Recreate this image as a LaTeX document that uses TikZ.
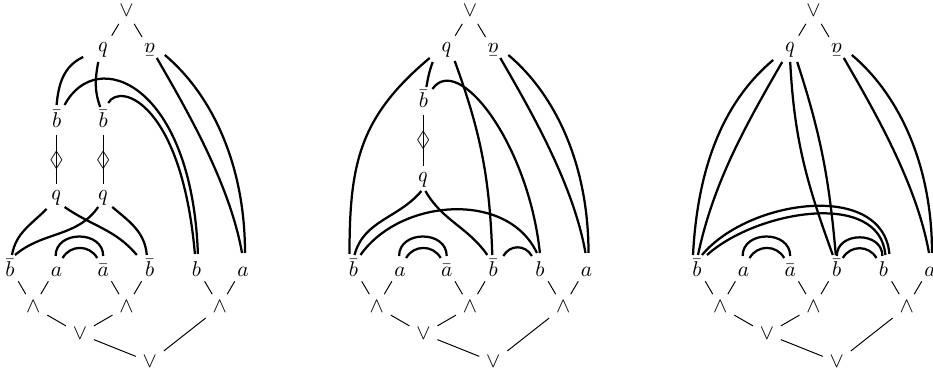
\documentclass[tikz,border=0pt]{standalone}
\usepackage{amsmath,amssymb}
\usepackage{tikz}

\begin{document}
\begin{tikzpicture}[
    x=0.018cm, y=0.018cm,
    every node/.style={font=\fontsize{11}{13}\selectfont},
    lab/.style={anchor=base, inner sep=2pt, text height=10pt, text depth=0pt},
    ubar/.style={anchor=base},
    inv/.style={rotate=180},
    tree/.style={line width=0.5pt},
    link/.style={line width=1.15pt},
]
\useasboundingbox (0,0) rectangle (933,374);

% Left net
\begin{scope}[shift={(10,0)}, name prefix=L-]
\node (vt) at (116.5,363) {$\vee$};
\node[inv] (q0) at (93.2,324) {$b$};
\node[inv] (n0) at (139.8,324) {$\bar a$};
\node[ubar] (u1) at (46.6,246) {$\bar b$};
\node[ubar] (u2) at (93.2,246) {$\bar b$};
\node (d1) at (46.6,214) {$\lozenge$};
\node (d2) at (93.2,214) {$\lozenge$};
\node[inv] (p1) at (46.6,176) {$b$};
\node[inv] (p2) at (93.2,176) {$b$};
\node[lab] (b1) at (0,97) {$\bar b$};
\node[lab] (a1) at (46.6,97) {$a$};
\node[lab] (a2) at (93.2,97) {$\bar a$};
\node[lab] (b2) at (139.8,97) {$\bar b$};
\node[lab] (b3) at (186.4,97) {$b$};
\node[lab] (a3) at (233,97) {$a$};
\node (w1) at (23.3,67) {$\wedge$};
\node (w2) at (116.5,67) {$\wedge$};
\node (w3) at (209.7,67) {$\wedge$};
\node (v1) at (69.9,40) {$\vee$};
\node (v0) at (139.8,12) {$\vee$};
\draw[tree] (vt) edge (q0) edge (n0);
\draw[tree] (u1) -- (p1);
\draw[tree] (u2) -- (p2);
\draw[tree] (w1) edge (b1) edge (a1);
\draw[tree] (w2) edge (a2) edge (b2);
\draw[tree] (w3) edge (b3) edge (a3);
\draw[tree] (v1) edge (w1) edge (w2);
\draw[tree] (v0) edge (v1) edge (w3);
% links
\draw[link] ([shift={(-20,-7)}]q0.center) to[out=205,in=85] ([shift={(0,23)}]u1.base);
\draw[link] ([shift={(-5,-12)}]q0.center) to[out=260,in=110] ([shift={(-3,21)}]u2.base);
\draw[link] ([shift={(8,23)}]u1.base) .. controls +(62:68) and +(92:170) .. ([shift={(1.5,23)}]b3.base);
\draw[link] ([shift={(5,25)}]u2.base) .. controls +(60:25) and +(95:150) .. ([shift={(-1.5,23)}]b3.base);
\draw[link] ([shift={(7,-8)}]n0.center) .. controls +(300:60) and +(100:70) .. ([shift={(-1,24)}]a3.base);
\draw[link] ([shift={(15,-5)}]n0.center) .. controls +(320:60) and +(90:90) .. ([shift={(2,24)}]a3.base);
\draw[link] ([shift={(-10,-11)}]p1.center) to[out=225,in=80] ([shift={(2,22)}]b1.base);
\draw[link] ([shift={(8,-9)}]p1.center) to[out=-35,in=130] ([shift={(-13,22)}]b2.base);
\draw[link] ([shift={(-5,-9)}]p2.center) to[out=235,in=40] ([shift={(5,22)}]b1.base);
\draw[link] ([shift={(9,-9)}]p2.center) to[out=-40,in=95] ([shift={(-3,22)}]b2.base);
\draw[link] ([shift={(-1,21)}]a1.base) to[out=90,in=90,looseness=1.4] ([shift={(0,21)}]a2.base);
\draw[link] ([shift={(6,19)}]a1.base) to[out=60,in=120,looseness=1.15] ([shift={(-6,19)}]a2.base);
\end{scope}

% Middle net
\begin{scope}[shift={(353.5,0)}, name prefix=M-]
\node (vt) at (116.5,363) {$\vee$};
\node[inv] (q0) at (93.2,324) {$b$};
\node[inv] (n0) at (139.8,324) {$\bar a$};
\node[ubar] (u1) at (69.9,266) {$\bar b$};
\node (d1) at (69.9,234) {$\lozenge$};
\node[inv] (p1) at (69.9,194) {$b$};
\node[lab] (b1) at (0,97) {$\bar b$};
\node[lab] (a1) at (46.6,97) {$a$};
\node[lab] (a2) at (93.2,97) {$\bar a$};
\node[lab] (b2) at (139.8,97) {$\bar b$};
\node[lab] (b3) at (186.4,97) {$b$};
\node[lab] (a3) at (233,97) {$a$};
\node (w1) at (23.3,67) {$\wedge$};
\node (w2) at (116.5,67) {$\wedge$};
\node (w3) at (209.7,67) {$\wedge$};
\node (v1) at (69.9,40) {$\vee$};
\node (v0) at (139.8,12) {$\vee$};
\draw[tree] (vt) edge (q0) edge (n0);
\draw[tree] (u1) -- (p1);
\draw[tree] (w1) edge (b1) edge (a1);
\draw[tree] (w2) edge (a2) edge (b2);
\draw[tree] (w3) edge (b3) edge (a3);
\draw[tree] (v1) edge (w1) edge (w2);
\draw[tree] (v0) edge (v1) edge (w3);
% links
\draw[link] ([shift={(-17,-8)}]q0.center) to[out=220,in=90,looseness=1.1] ([shift={(-4,23)}]b1.base);
\draw[link] ([shift={(-14,-12)}]q0.center) to[out=250,in=80] ([shift={(3,21)}]u1.base);
\draw[link] ([shift={(8,-11)}]q0.center) to[out=-70,in=92] ([shift={(-1,22)}]b2.base);
\draw[link] ([shift={(9,19)}]u1.base) .. controls +(55:45) and +(96:110) .. ([shift={(0,24)}]b3.base);
\draw[link] ([shift={(7,-8)}]n0.center) .. controls +(300:60) and +(100:70) .. ([shift={(-1,24)}]a3.base);
\draw[link] ([shift={(15,-5)}]n0.center) .. controls +(320:60) and +(90:90) .. ([shift={(2,24)}]a3.base);
\draw[link] ([shift={(-2,-11)}]p1.center) to[out=230,in=75] ([shift={(1,22)}]b1.base);
\draw[link] ([shift={(2,-11)}]p1.center) to[out=-60,in=125] ([shift={(-6,22)}]b2.base);
\draw[link] ([shift={(7,22)}]b1.base) to[out=55,in=115] ([shift={(-3,24)}]b3.base);
\draw[link] ([shift={(10,21)}]b2.base) to[out=60,in=120,looseness=1.2] ([shift={(-8,21)}]b3.base);
\draw[link] ([shift={(-1,21)}]a1.base) to[out=90,in=90,looseness=1.4] ([shift={(0,21)}]a2.base);
\draw[link] ([shift={(6,19)}]a1.base) to[out=60,in=120,looseness=1.15] ([shift={(-6,19)}]a2.base);
\end{scope}

% Right net
\begin{scope}[shift={(697,0)}, name prefix=R-]
\node (vt) at (116.5,363) {$\vee$};
\node[inv] (q0) at (93.2,324) {$b$};
\node[inv] (n0) at (139.8,324) {$\bar a$};
\node[lab] (b1) at (0,97) {$\bar b$};
\node[lab] (a1) at (46.6,97) {$a$};
\node[lab] (a2) at (93.2,97) {$\bar a$};
\node[lab] (b2) at (139.8,97) {$\bar b$};
\node[lab] (b3) at (186.4,97) {$b$};
\node[lab] (a3) at (233,97) {$a$};
\node (w1) at (23.3,67) {$\wedge$};
\node (w2) at (116.5,67) {$\wedge$};
\node (w3) at (209.7,67) {$\wedge$};
\node (v1) at (69.9,40) {$\vee$};
\node (v0) at (139.8,12) {$\vee$};
\draw[tree] (vt) edge (q0) edge (n0);
\draw[tree] (w1) edge (b1) edge (a1);
\draw[tree] (w2) edge (a2) edge (b2);
\draw[tree] (w3) edge (b3) edge (a3);
\draw[tree] (v1) edge (w1) edge (w2);
\draw[tree] (v0) edge (v1) edge (w3);
% links
\draw[link] ([shift={(-17,-10)}]q0.center) to[out=220,in=87,looseness=0.9] ([shift={(-4,22)}]b1.base);
\draw[link] ([shift={(-8,-12)}]q0.center) to[out=240,in=78,looseness=0.9] ([shift={(1,22)}]b1.base);
\draw[link] ([shift={(0,-12)}]q0.center) to[out=-87,in=110] ([shift={(-4,22)}]b2.base);
\draw[link] ([shift={(7,-12)}]q0.center) to[out=-72,in=95] ([shift={(-1,22)}]b2.base);
\draw[link] ([shift={(7,-8)}]n0.center) .. controls +(300:60) and +(100:70) .. ([shift={(-1,24)}]a3.base);
\draw[link] ([shift={(15,-5)}]n0.center) .. controls +(320:60) and +(90:90) .. ([shift={(2,24)}]a3.base);
\draw[link] ([shift={(5,22)}]b1.base) to[out=50,in=95] ([shift={(6,23)}]b3.base);
\draw[link] ([shift={(10,22)}]b1.base) to[out=42,in=95,looseness=0.95] ([shift={(2,22)}]b3.base);
\draw[link] ([shift={(0,21)}]b2.base) to[out=90,in=90,looseness=1.4] ([shift={(-1,21)}]b3.base);
\draw[link] ([shift={(6,19)}]b2.base) to[out=60,in=120,looseness=1.15] ([shift={(-7,19)}]b3.base);
\draw[link] ([shift={(-1,21)}]a1.base) to[out=90,in=90,looseness=1.4] ([shift={(0,21)}]a2.base);
\draw[link] ([shift={(6,19)}]a1.base) to[out=60,in=120,looseness=1.15] ([shift={(-6,19)}]a2.base);
\end{scope}
\end{tikzpicture}
\end{document}
